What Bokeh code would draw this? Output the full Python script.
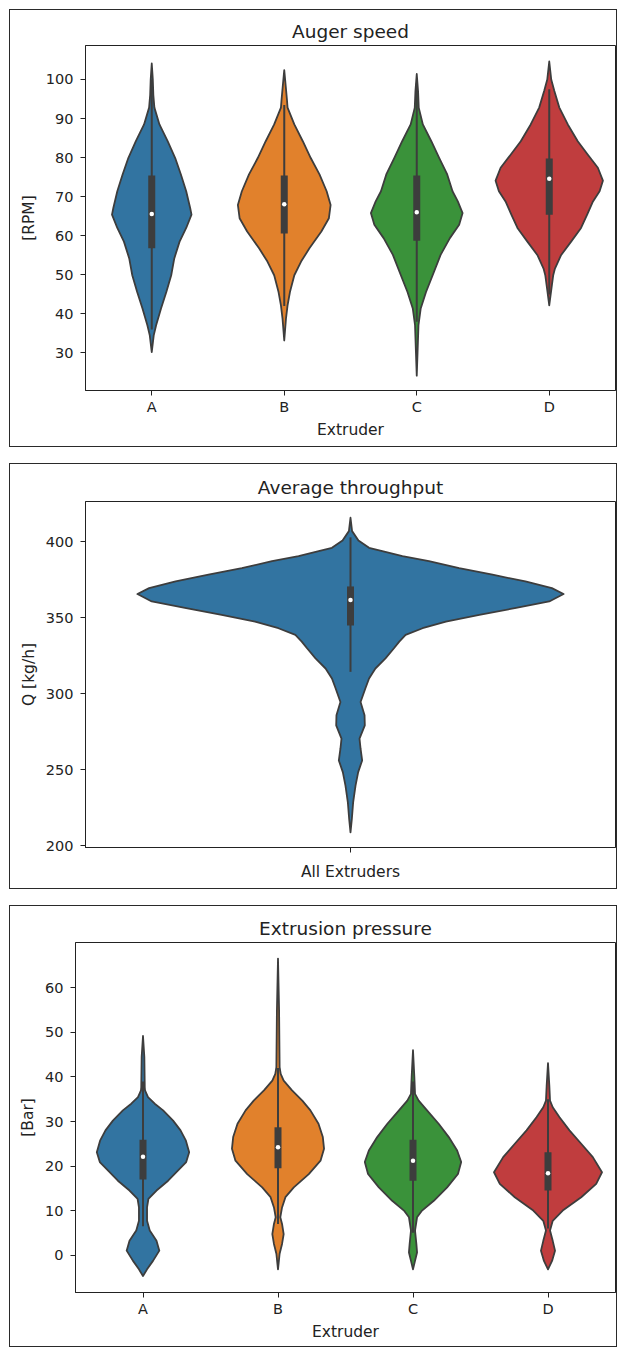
from bokeh.plotting import figure
from bokeh.layouts import column, row
from bokeh.models import Range1d, FixedTicker, Spacer
from bokeh.embed import file_html
from bokeh.resources import INLINE

FONT = "DejaVu Sans"
EDGE = "#3d3d3d"
TEXT = "#222222"
PALETTE = ["#3274a1", "#e1812c", "#3a923a", "#c03d3e"]

# ---------------- Panel 1: Auger speed [RPM] ----------------
extruders = ["A", "B", "C", "D"]
auger_yticks = [30, 40, 50, 60, 70, 80, 90, 100]

auger_a_val = [104.1, 100.0, 96.0, 92.8, 88.5, 84.2, 79.9, 75.7, 71.4, 67.1, 65.4, 62.0, 58.5, 54.2, 49.9, 45.6, 41.4, 37.1, 34.5, 30.2]
auger_a_half = [0, 0.008, 0.012, 0.02, 0.058, 0.12, 0.177, 0.22, 0.26, 0.29, 0.30, 0.26, 0.21, 0.17, 0.147, 0.11, 0.07, 0.033, 0.015, 0]

auger_b_val = [102.4, 98.0, 95.0, 92.8, 88.5, 84.2, 79.9, 75.7, 71.4, 67.9, 64.5, 61.1, 56.8, 53.4, 49.9, 45.6, 42.2, 38.8, 33.2]
auger_b_half = [0, 0.012, 0.02, 0.025, 0.076, 0.14, 0.2, 0.266, 0.32, 0.35, 0.337, 0.28, 0.19, 0.127, 0.076, 0.043, 0.025, 0.013, 0]

auger_c_val = [101.4, 97.0, 92.8, 88.5, 84.2, 79.9, 75.7, 71.4, 68.8, 65.8, 62.8, 59.4, 55.1, 49.9, 45.6, 41.4, 37.1, 30.0, 24.2]
auger_c_half = [0, 0.01, 0.015, 0.046, 0.11, 0.17, 0.23, 0.27, 0.31, 0.346, 0.32, 0.25, 0.18, 0.12, 0.07, 0.03, 0.013, 0.006, 0]

auger_d_val = [104.6, 100.0, 97.1, 92.8, 88.5, 84.2, 80.8, 77.4, 74.1, 71.4, 68.8, 65.4, 62.0, 58.5, 55.1, 51.6, 49.9, 45.6, 42.2]
auger_d_half = [0, 0.015, 0.038, 0.076, 0.14, 0.215, 0.29, 0.367, 0.405, 0.38, 0.33, 0.286, 0.24, 0.165, 0.09, 0.043, 0.03, 0.013, 0]

auger_q1 = [56.8, 60.6, 58.7, 65.4]
auger_med = [65.6, 68.1, 66.05, 74.6]
auger_q3 = [75.4, 75.4, 75.4, 79.8]
auger_wlo = [36.0, 42.0, 38.0, 45.0]
auger_whi = [100.0, 93.5, 99.0, 97.5]

# ---------------- Panel 2: Average throughput Q [kg/h] ----------------
thr_cats = [""]
thr_xlabel = "All Extruders"
thr_yticks = [200, 250, 300, 350, 400]
thr_val = [415.9, 407.1, 401.0, 396.1, 393.9, 390.6, 387.3, 382.8, 378.4, 374.0, 369.6, 365.7, 360.8, 356.4, 352.0, 347.6, 343.2, 338.8, 334.4, 330.0, 323.4, 316.7, 310.1, 303.5, 294.7, 285.9, 279.3, 270.5, 263.9, 256.2, 248.5, 239.6, 228.6, 217.6, 208.8]
thr_half = [0, 0.003, 0.015, 0.035, 0.06, 0.098, 0.148, 0.205, 0.268, 0.33, 0.38, 0.402, 0.375, 0.31, 0.243, 0.18, 0.136, 0.104, 0.092, 0.082, 0.066, 0.047, 0.035, 0.028, 0.019, 0.0265, 0.027, 0.017, 0.019, 0.022, 0.0145, 0.0095, 0.005, 0.0025, 0]
thr_q1 = [345.0]
thr_med = [361.7]
thr_q3 = [370.7]
thr_wlo = [314.5]
thr_whi = [403.0]

# ---------------- Panel 3: Extrusion pressure [Bar] ----------------
pres_yticks = [0, 10, 20, 30, 40, 50, 60]

pres_a_val = [49.2, 44.5, 37.7, 37.0, 35.5, 34.0, 32.5, 30.2, 28.0, 25.7, 23.1, 20.9, 19.0, 16.7, 14.5, 12.6, 10.7, 7.7, 5.5, 3.2, 1.0, -1.3, -3.2, -4.7]
pres_a_half = [0, 0.01, 0.013, 0.015, 0.037, 0.087, 0.149, 0.223, 0.278, 0.318, 0.342, 0.32, 0.26, 0.186, 0.1, 0.04, 0.03, 0.03, 0.05, 0.1, 0.121, 0.074, 0.03, 0]

pres_b_val = [66.6, 55.0, 42.2, 40.7, 39.2, 37.0, 34.7, 32.5, 29.5, 26.5, 23.9, 21.2, 18.2, 15.2, 13.0, 10.7, 8.5, 7.0, 4.7, 2.5, 0.3, -3.2]
pres_b_half = [0, 0.008, 0.012, 0.02, 0.042, 0.104, 0.18, 0.24, 0.30, 0.332, 0.341, 0.315, 0.228, 0.117, 0.055, 0.03, 0.017, 0.03, 0.042, 0.03, 0.012, 0]

pres_c_val = [46.0, 40.0, 36.2, 34.7, 32.5, 29.5, 26.5, 23.5, 20.9, 18.2, 15.2, 12.2, 10.0, 8.5, 5.5, 2.5, 0.6, -1.3, -3.2]
pres_c_half = [0, 0.01, 0.015, 0.042, 0.104, 0.19, 0.265, 0.327, 0.357, 0.333, 0.253, 0.154, 0.067, 0.03, 0.015, 0.025, 0.03, 0.015, 0]

pres_d_val = [43.1, 38.0, 34.7, 33.2, 31.0, 28.0, 25.0, 22.0, 18.6, 16.0, 13.0, 10.0, 7.7, 5.5, 3.2, 1.0, -1.3, -3.2]
pres_d_half = [0, 0.01, 0.015, 0.035, 0.084, 0.159, 0.246, 0.332, 0.4, 0.357, 0.246, 0.109, 0.035, 0.015, 0.035, 0.052, 0.03, 0]

pres_q1 = [17.0, 19.5, 16.7, 14.5]
pres_med = [22.1, 24.2, 21.2, 18.4]
pres_q3 = [25.9, 28.7, 25.9, 23.1]
pres_wlo = [6.5, 7.0, 5.0, 6.0]
pres_whi = [39.0, 42.0, 39.0, 35.0]


def make_fig(width, height, cats, y_range, title, yticks, xlabel, ylabel,
             left, right, top, bottom, hide_xlabels=False, xlabel_standoff=3):
    p = figure(width=width, height=height,
               x_range=Range1d(-0.5, len(cats) - 0.5), y_range=Range1d(*y_range),
               output_backend="svg", toolbar_location=None, title=title,
               min_border_left=left, min_border_right=right,
               min_border_top=top, min_border_bottom=bottom,
               background_fill_color="white", border_fill_color="white",
               styles={"border": "1.5px solid #2a2a2a"})
    p.frame_align = False
    p.title.align = "center"
    p.title.text_font = FONT
    p.title.text_font_size = "18.5px"
    p.title.text_font_style = "normal"
    p.title.text_color = TEXT
    p.title.standoff = 8
    p.xgrid.visible = False
    p.ygrid.visible = False
    p.outline_line_color = TEXT
    p.outline_line_width = 1
    p.outline_line_alpha = 1
    p.xaxis.ticker = FixedTicker(ticks=list(range(len(cats))))
    p.xaxis.major_label_overrides = {i: c for i, c in enumerate(cats)}
    p.yaxis.ticker = FixedTicker(ticks=yticks)
    for ax in (p.xaxis[0], p.yaxis[0]):
        ax.axis_line_color = TEXT
        ax.major_tick_line_color = TEXT
        ax.major_tick_in = 0
        ax.major_tick_out = 5
        ax.minor_tick_line_color = None
        ax.major_label_text_font = FONT
        ax.major_label_text_font_size = "14.5px"
        ax.major_label_text_color = TEXT
        ax.axis_label_text_font = FONT
        ax.axis_label_text_font_size = "15.5px"
        ax.axis_label_text_font_style = "normal"
        ax.axis_label_text_color = TEXT
    p.yaxis.major_label_standoff = 7
    p.yaxis.axis_label_standoff = 5
    p.xaxis.major_label_standoff = 3
    p.xaxis.axis_label_standoff = xlabel_standoff
    if hide_xlabels:
        p.xaxis.major_label_text_font_size = "0px"
    if xlabel:
        p.xaxis.axis_label = xlabel
    p.yaxis.axis_label = ylabel
    return p


def violin(p, cx, vals, half, color):
    xs = [cx + h for h in half] + [cx - h for h in reversed(half)]
    ys = list(vals) + list(reversed(vals))
    p.patch(xs, ys, fill_color=color, line_color=EDGE, line_width=1.8, line_join="round")


def inner_box(p, q1, med, q3, wlo, whi):
    xs = list(range(len(q1)))
    p.segment(x0=xs, y0=wlo, x1=xs, y1=whi, line_color=EDGE, line_width=2)
    p.segment(x0=xs, y0=q1, x1=xs, y1=q3, line_color=EDGE, line_width=7, line_cap="butt")
    p.scatter(x=xs, y=med, size=4.5, fill_color="white", line_color=None)


p1 = make_fig(608, 438, extruders, (20.4, 108.7), "Auger speed", auger_yticks,
              "Extruder", "[RPM]", 75, 3, 35, 58)
for i, (v, h) in enumerate([(auger_a_val, auger_a_half), (auger_b_val, auger_b_half),
                            (auger_c_val, auger_c_half), (auger_d_val, auger_d_half)]):
    violin(p1, i, v, h, PALETTE[i])
inner_box(p1, auger_q1, auger_med, auger_q3, auger_wlo, auger_whi)

p2 = make_fig(608, 426, thr_cats, (198.9, 426.6), "Average throughput", thr_yticks,
              thr_xlabel, "Q [kg/h]", 75, 3, 37, 43, hide_xlabels=True, xlabel_standoff=10)
violin(p2, 0, thr_val, thr_half, PALETTE[0])
inner_box(p2, thr_q1, thr_med, thr_q3, thr_wlo, thr_whi)

p3 = make_fig(608, 442, extruders, (-8.4, 70.2), "Extrusion pressure", pres_yticks,
              "Extruder", "[Bar]", 65, 3, 36, 56)
for i, (v, h) in enumerate([(pres_a_val, pres_a_half), (pres_b_val, pres_b_half),
                            (pres_c_val, pres_c_half), (pres_d_val, pres_d_half)]):
    violin(p3, i, v, h, PALETTE[i])
inner_box(p3, pres_q1, pres_med, pres_q3, pres_wlo, pres_whi)

col = column(Spacer(height=9), p1, Spacer(height=16), p2, Spacer(height=16), p3)
layout = row(Spacer(width=9), col)
open("out.html", "w").write(file_html(layout, INLINE))
